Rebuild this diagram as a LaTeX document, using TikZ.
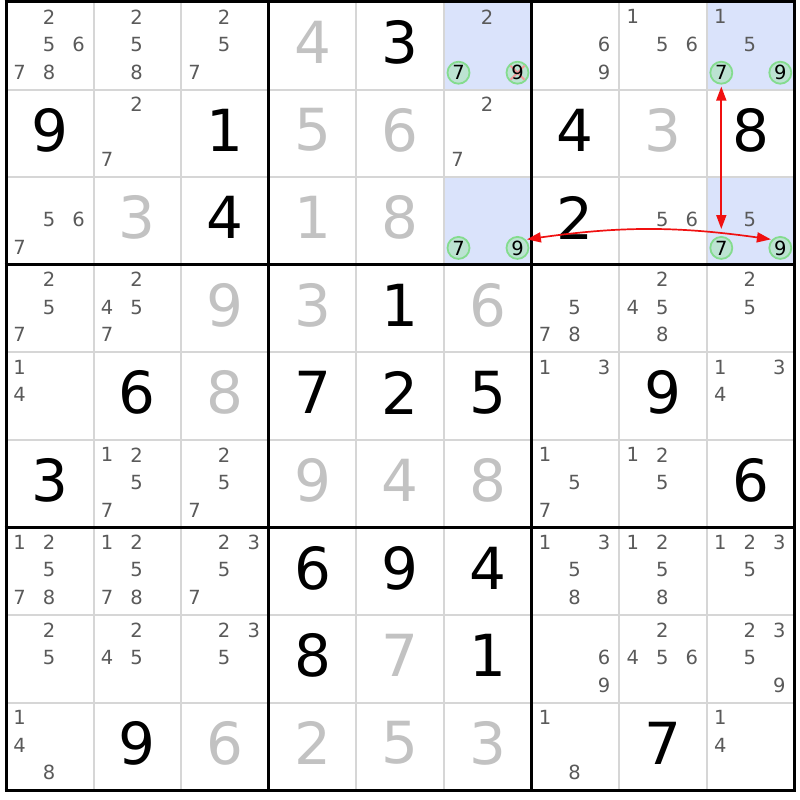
\documentclass[tikz,border=0pt]{standalone}
\usepackage{fontspec}
\setmainfont{DejaVu Sans}
\usetikzlibrary{arrows.meta}
\definecolor{candgray}{HTML}{5A5A5A}
\definecolor{solvedgray}{HTML}{C2C2C2}
\definecolor{thingray}{HTML}{D6D6D6}
\definecolor{hilite}{HTML}{DAE3FB}
\definecolor{circfill}{HTML}{BCE3D2}
\definecolor{circline}{HTML}{84DC8E}
\definecolor{linkred}{HTML}{F01010}
\definecolor{xpink}{HTML}{F29A9A}
\tikzset{
  cand/.style={inner sep=0pt, text=candgray, font=\fontsize{19.5}{19.5}\selectfont},
  candin/.style={inner sep=0pt, text=black, font=\fontsize{19.5}{19.5}\selectfont},
  ring/.style={circle, minimum size=22pt, inner sep=0pt, fill=circfill, draw=circline, line width=1.8pt},
  given/.style={inner sep=0pt, text=black, font=\fontsize{58}{58}\selectfont},
  solved/.style={inner sep=0pt, text=solvedgray, font=\fontsize{58}{58}\selectfont},
  link/.style={draw=linkred, line width=1.7pt, {Triangle[length=14pt,width=10pt]}-{Triangle[length=14pt,width=10pt]}},
}
\newcommand\cands[3]{%
  \foreach \d in {#3}{%
    \pgfmathtruncatemacro\ci{mod(\d-1,3)}%
    \pgfmathtruncatemacro\ri{int((\d-1)/3)}%
    \node[cand] (k#1#2\d) at ({6+(#2-1)*87.6+13.5+29.5*\ci},{2+(#1-1)*87.6+14.8+27.6*\ri}) {\d};
  }}
\newcommand\ringed[3]{%
  \pgfmathtruncatemacro\ci{mod(#3-1,3)}%
  \pgfmathtruncatemacro\ri{int((#3-1)/3)}%
  \node[ring] (o#1#2#3) at ({6+(#2-1)*87.6+14.5+29.5*\ci},{2+(#1-1)*87.6+15.5+27.6*\ri}) {};
}
\newcommand\ringdigit[3]{%
  \node[candin] (k#1#2#3) at (o#1#2#3) {#3};
}
\newcommand\givendig[3]{%
  \node[given] (g#1#2) at ({6+(#2-0.5)*87.6},{2+(#1-0.5)*87.6-3.5}) {#3};
}
\newcommand\solveddig[3]{%
  \node[solved] (s#1#2) at ({6+(#2-0.5)*87.6},{2+(#1-0.5)*87.6-3.5}) {#3};
}
\begin{document}
\begin{tikzpicture}[x=1pt,y=-1pt]
\useasboundingbox (0,0) rectangle (800,800);
\fill[white] (0,0) rectangle (800,800);
% highlighted cells
\foreach \r/\c in {1/6,3/6,1/9,3/9}{
  \fill[hilite] ({6+(\c-1)*87.6},{2+(\r-1)*87.6}) rectangle ++(87.6,87.6);
}
% thin grid lines
\foreach \i in {1,2,4,5,7,8}{
  \draw[thingray, line width=2pt] ({6+\i*87.6},2) -- ({6+\i*87.6},790.4);
  \draw[thingray, line width=2pt] (6,{2+\i*87.6}) -- (794.4,{2+\i*87.6});
}
% thick grid lines
\foreach \i in {0,3,6,9}{
  \draw[black, line width=3pt] ({6+\i*87.6},0.5) -- ({6+\i*87.6},791.9);
  \draw[black, line width=3pt] (4.5,{2+\i*87.6}) -- (795.9,{2+\i*87.6});
}
% row 1
\cands{1}{1}{2,5,6,7,8}
\cands{1}{2}{2,5,8}
\cands{1}{3}{2,5,7}
\solveddig{1}{4}{4}
\givendig{1}{5}{3}
\cands{1}{6}{2}
\ringed{1}{6}{7}
\ringed{1}{6}{9}
\draw[xpink, line width=2pt] ([shift={(-7,-7)}]o169.center) -- ([shift={(7,7)}]o169.center);
\draw[xpink, line width=2pt] ([shift={(-7,7)}]o169.center) -- ([shift={(7,-7)}]o169.center);
\ringdigit{1}{6}{7}
\ringdigit{1}{6}{9}
\cands{1}{7}{6,9}
\cands{1}{8}{1,5,6}
\cands{1}{9}{1,5}
\ringed{1}{9}{7}
\ringed{1}{9}{9}
\ringdigit{1}{9}{7}
\ringdigit{1}{9}{9}
% row 2
\givendig{2}{1}{9}
\cands{2}{2}{2,7}
\givendig{2}{3}{1}
\solveddig{2}{4}{5}
\solveddig{2}{5}{6}
\cands{2}{6}{2,7}
\givendig{2}{7}{4}
\solveddig{2}{8}{3}
\givendig{2}{9}{8}
% row 3
\cands{3}{1}{5,6,7}
\solveddig{3}{2}{3}
\givendig{3}{3}{4}
\solveddig{3}{4}{1}
\solveddig{3}{5}{8}
\ringed{3}{6}{7}
\ringed{3}{6}{9}
\ringdigit{3}{6}{7}
\ringdigit{3}{6}{9}
\givendig{3}{7}{2}
\cands{3}{8}{5,6}
\cands{3}{9}{5}
\ringed{3}{9}{7}
\ringed{3}{9}{9}
\ringdigit{3}{9}{7}
\ringdigit{3}{9}{9}
% row 4
\cands{4}{1}{2,5,7}
\cands{4}{2}{2,4,5,7}
\solveddig{4}{3}{9}
\solveddig{4}{4}{3}
\givendig{4}{5}{1}
\solveddig{4}{6}{6}
\cands{4}{7}{5,7,8}
\cands{4}{8}{2,4,5,8}
\cands{4}{9}{2,5}
% row 5
\cands{5}{1}{1,4}
\givendig{5}{2}{6}
\solveddig{5}{3}{8}
\givendig{5}{4}{7}
\givendig{5}{5}{2}
\givendig{5}{6}{5}
\cands{5}{7}{1,3}
\givendig{5}{8}{9}
\cands{5}{9}{1,3,4}
% row 6
\givendig{6}{1}{3}
\cands{6}{2}{1,2,5,7}
\cands{6}{3}{2,5,7}
\solveddig{6}{4}{9}
\solveddig{6}{5}{4}
\solveddig{6}{6}{8}
\cands{6}{7}{1,5,7}
\cands{6}{8}{1,2,5}
\givendig{6}{9}{6}
% row 7
\cands{7}{1}{1,2,5,7,8}
\cands{7}{2}{1,2,5,7,8}
\cands{7}{3}{2,3,5,7}
\givendig{7}{4}{6}
\givendig{7}{5}{9}
\givendig{7}{6}{4}
\cands{7}{7}{1,3,5,8}
\cands{7}{8}{1,2,5,8}
\cands{7}{9}{1,2,3,5}
% row 8
\cands{8}{1}{2,5}
\cands{8}{2}{2,4,5}
\cands{8}{3}{2,3,5}
\givendig{8}{4}{8}
\solveddig{8}{5}{7}
\givendig{8}{6}{1}
\cands{8}{7}{6,9}
\cands{8}{8}{2,4,5,6}
\cands{8}{9}{2,3,5,9}
% row 9
\cands{9}{1}{1,4,8}
\givendig{9}{2}{9}
\solveddig{9}{3}{6}
\solveddig{9}{4}{2}
\solveddig{9}{5}{5}
\solveddig{9}{6}{3}
\cands{9}{7}{1,8}
\givendig{9}{8}{7}
\cands{9}{9}{1,4}
% links
\draw[link, shorten <=2pt, shorten >=7pt] (o197.south) -- (o397.north);
\draw[link, shorten <=1pt, shorten >=1pt] (o369.45) to[bend left=8] (o399.135);
\end{tikzpicture}
\end{document}
